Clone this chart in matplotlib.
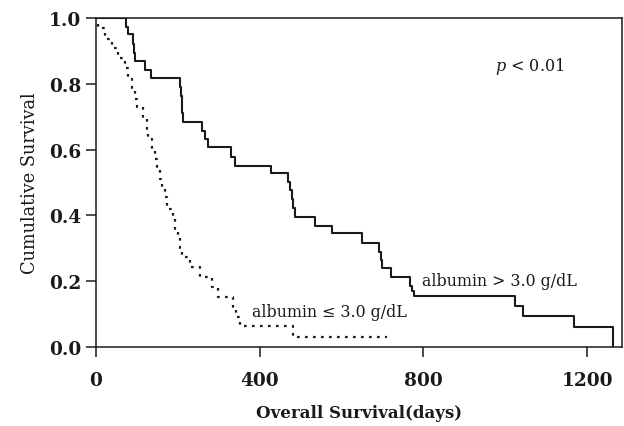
import matplotlib
matplotlib.use('Agg')
import matplotlib.pyplot as plt

# survival steps (time in days, survival after the drop)
hiTime = [0, 73, 77, 90, 93, 95, 120, 134, 204, 207, 209, 211, 213, 258, 266, 274,
          330, 340, 428, 470, 474, 478, 482, 486, 535, 576, 651, 692, 696, 698,
          720, 767, 772, 777, 1024, 1043, 1167, 1264]
hiSurv = [1.0, 0.974, 0.951, 0.921, 0.895, 0.868, 0.842, 0.817, 0.789, 0.763, 0.737,
          0.711, 0.684, 0.658, 0.632, 0.607, 0.579, 0.551, 0.529, 0.503, 0.477,
          0.450, 0.424, 0.396, 0.368, 0.346, 0.316, 0.288, 0.263, 0.239, 0.212,
          0.186, 0.171, 0.156, 0.126, 0.095, 0.060, 0.0]
hiEnd = 1264

loTime = [0, 5, 22, 39, 54, 71, 78, 88, 95, 100, 115, 125, 128, 137, 144, 149, 156,
          161, 169, 174, 188, 193, 200, 205, 210, 230, 254, 283, 298, 335, 342,
          352, 481]
loSurv = [1.0, 0.97, 0.935, 0.91, 0.877, 0.847, 0.815, 0.786, 0.754, 0.73, 0.695,
          0.663, 0.632, 0.60, 0.57, 0.54, 0.51, 0.486, 0.456, 0.42, 0.39, 0.36,
          0.33, 0.30, 0.273, 0.243, 0.213, 0.182, 0.152, 0.12, 0.09, 0.065, 0.029]
loEnd = 711

xTicks = [0, 400, 800, 1200]
yTicks = [0.0, 0.2, 0.4, 0.6, 0.8, 1.0]

ink = '#1a1a1a'
plt.rcParams['font.family'] = ['DejaVu Serif']
plt.rcParams['mathtext.fontset'] = 'dejavuserif'

fig = plt.figure(figsize=(6.24, 4.27), dpi=100)
ax = fig.add_axes([96/624, 1 - 348/427, 526/624, 329/427])

#solid curve for the high albumin group
ax.step(hiTime + [hiEnd], hiSurv + [hiSurv[-1]], where='post', color=ink, linewidth=1.5)
#dotted curve for the low albumin group
ax.step(loTime + [loEnd], loSurv + [loSurv[-1]], where='post', color=ink,
        linewidth=1.6, linestyle=(0, (1.2, 2.4)))

ax.set_xlim(0, 1285)
ax.set_ylim(0, 1.0)
ax.set_xticks(xTicks)
ax.set_yticks(yTicks)
ax.set_yticklabels(['{:.1f}'.format(v) for v in yTicks])
ax.tick_params(direction='out', length=7, width=1.1, color=ink, labelsize=13.3,
               labelcolor=ink)
ax.tick_params(axis='x', pad=10)
ax.tick_params(axis='y', pad=3.5)
for lab in ax.get_xticklabels() + ax.get_yticklabels():
    lab.set_fontweight('bold')
for sp in ax.spines.values():
    sp.set_linewidth(1.1)
    sp.set_color(ink)

ax.set_xlabel('Overall Survival(days)', fontsize=12, fontweight='bold', color=ink, labelpad=11)
ax.set_ylabel('Cumulative Survival', fontsize=12.8, color=ink, labelpad=7)

ax.text((530 - 96) / 0.4092, 0.857, r'$p$ < 0.01', fontsize=11.5, color=ink,
        ha='center', va='center')
ax.text((422 - 96) / 0.4092, 0.201, 'albumin > 3.0 g/dL', fontsize=11.4, color=ink,
        ha='left', va='center')
ax.text((252 - 96) / 0.4092, 0.107, 'albumin \u2264 3.0 g/dL', fontsize=11.4, color=ink,
        ha='left', va='center')

fig.savefig('out.png', dpi=100)
